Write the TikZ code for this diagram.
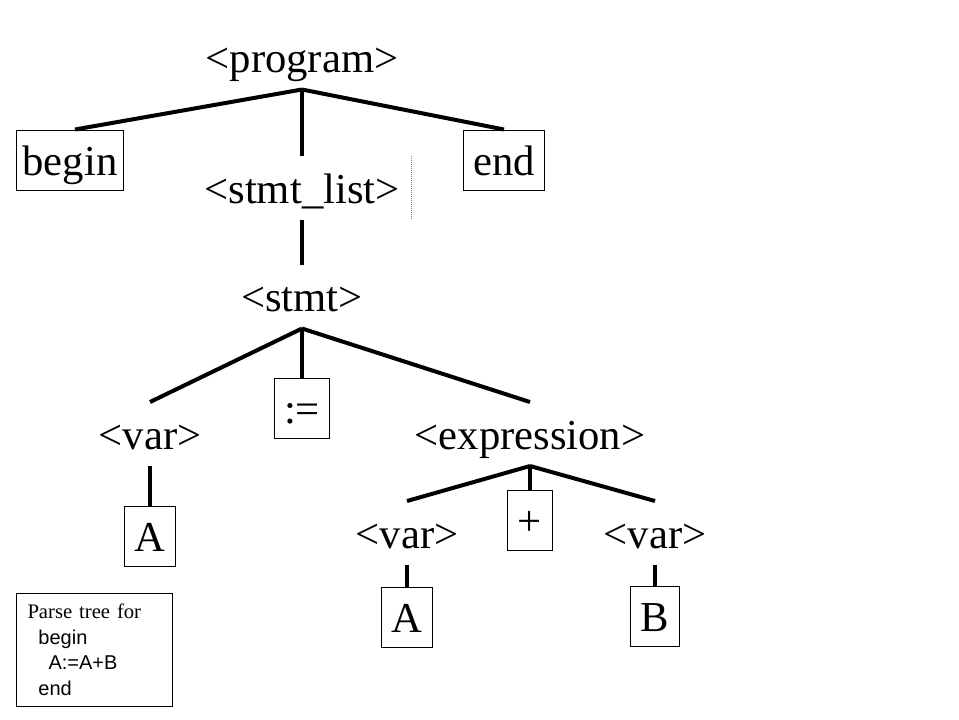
\documentclass[tikz,border=0pt]{standalone}
\usepackage{fontspec}
\setmainfont{Liberation Serif}
\setsansfont{Liberation Sans}
\usetikzlibrary{positioning}

\begin{document}
\begin{tikzpicture}[
            x = 0.75pt, % one pixel of the slide
            y = -0.75pt, % y runs downwards
            line width = 3pt, % branch style
            font = \fontsize{32}{38}\selectfont
        ]

        \tikzstyle{sym}=[
            inner sep = 0pt,
            text height = 33.75pt,
            text depth = 11.25pt,
            anchor = base
        ]
        \tikzstyle{leaf}=[
            sym,
            draw = black,
            line width = 0.75pt,
            inner xsep = 7.5pt
        ]

        \useasboundingbox (0,0) rectangle (959,719);

        \node[sym] (prog) at (302,72.5) {<program>};
        \node[leaf, inner xsep=4.5pt] (begin) at (70,175) {begin};
        \node[leaf] (end) at (504,175) {end};
        \node[sym] (stmtlist) at (302,203) {<stmt\_list>};
        \node[sym] (stmt) at (302,311.5) {<stmt>};
        \node[sym] (var1) at (150,449) {<var>};
        \node[leaf] (assign) at (302,423) {:=};
        \node[sym] (expr) at (530,449) {<expression>};
        \node[leaf] (a1) at (150,551) {A};
        \node[sym] (var2) at (407,548) {<var>};
        \node[leaf] (plus) at (530,535) {+};
        \node[sym] (var3) at (655,548) {<var>};
        \node[leaf] (a2) at (407,632) {A};
        \node[leaf] (b) at (655,631) {B};

        \node[draw, line width=0.75pt, anchor=north west,
            minimum width=117pt, minimum height=84.75pt,
            text width=100.5pt, inner xsep=8.25pt, align=left,
            font=\fontsize{15.5}{19.1}\selectfont] (caption) at (16,593)
            {Parse tree for\\
             {\sffamily\fontsize{15}{19.1}\selectfont\hspace*{8.25pt}begin}\\
             {\sffamily\fontsize{15}{19.1}\selectfont\hspace*{15.75pt}A:=A+B}\\
             {\sffamily\fontsize{15}{19.1}\selectfont\hspace*{8.25pt}end}};

        \draw (prog.south) -- ([xshift=3.75pt]begin.north);
        \draw (prog.south) -- (stmtlist.north);
        \draw (prog.south) -- (end.north);
        \draw (stmtlist.south) -- (stmt.north);
        \draw (stmt.south) -- (var1.north);
        \draw (stmt.south) -- (assign.north);
        \draw (stmt.south) -- (expr.north);
        \draw (var1.south) -- (a1.north);
        \draw (expr.south) -- (var2.north);
        \draw (expr.south) -- (plus.north);
        \draw (expr.south) -- (var3.north);
        \draw (var2.south) -- (a2.north);
        \draw (var3.south) -- (b.north);

        \draw[densely dotted, line width=0.5pt, gray]
            ([xshift=7.5pt]stmtlist.north east) -- ([xshift=7.5pt]stmtlist.south east);

    \end{tikzpicture}
\end{document}
